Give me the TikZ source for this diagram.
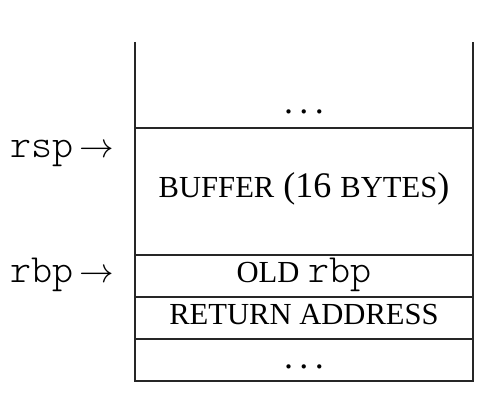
\documentclass[tikz,border=0pt]{standalone}
\usepackage{fontspec}
\setmainfont{Liberation Serif}
\newcommand\fakesc[1]{{\fontsize{15.3pt}{16pt}\selectfont #1}}
\newcommand\stackdots{.\kern0.18em.\kern0.18em.}
\newcommand\reg[1]{{\fontsize{20pt}{22pt}\selectfont\ttfamily\fontseries{l}\selectfont #1}}
\tikzset{
  cell/.style={inner sep=0pt, anchor=base, font=\fontsize{18pt}{20pt}\selectfont},
  ptr/.style={inner sep=0pt, anchor=base east, font=\fontsize{18pt}{20pt}\selectfont},
  wall/.style={line width=1pt, draw=black!85},
}
\begin{document}
\begin{tikzpicture}[x=0.5pt,y=-0.5pt]
\useasboundingbox (0,0) rectangle (495,401);
% corners and separators
\coordinate (tl) at (135,42);
\coordinate (tr) at (473,42);
\coordinate (bl) at (135,381);
\coordinate (br) at (473,381);
\coordinate (l1) at (135,128); \coordinate (r1) at (473,128);
\coordinate (l2) at (135,255); \coordinate (r2) at (473,255);
\coordinate (l3) at (135,297); \coordinate (r3) at (473,297);
\coordinate (l4) at (135,339); \coordinate (r4) at (473,339);
\draw[wall] (tl) -- (bl) -- (br) -- (tr);
\draw[wall] (l1) -- (r1);
\draw[wall] (l2) -- (r2);
\draw[wall] (l3) -- (r3);
\draw[wall] (l4) -- (r4);
% cell contents
\node[cell] (dotsTop) at (304,114) {\stackdots};
\node[cell] (buffer) at (304,198) {\fakesc{BUFFER} (16 \fakesc{BYTES})};
\node[cell] (oldrbp) at (304,283) {\fakesc{OLD} \reg{rbp}};
\node[cell] (retaddr) at (304,325) {\fakesc{RETURN ADDRESS}};
\node[cell] (dotsBot) at (304,369) {\stackdots};
% pointers
\node[ptr] (rsp) at (114,158) {\reg{rsp}\,$\rightarrow$};
\node[ptr] (rbp) at (114,283) {\reg{rbp}\,$\rightarrow$};
\end{tikzpicture}
\end{document}
